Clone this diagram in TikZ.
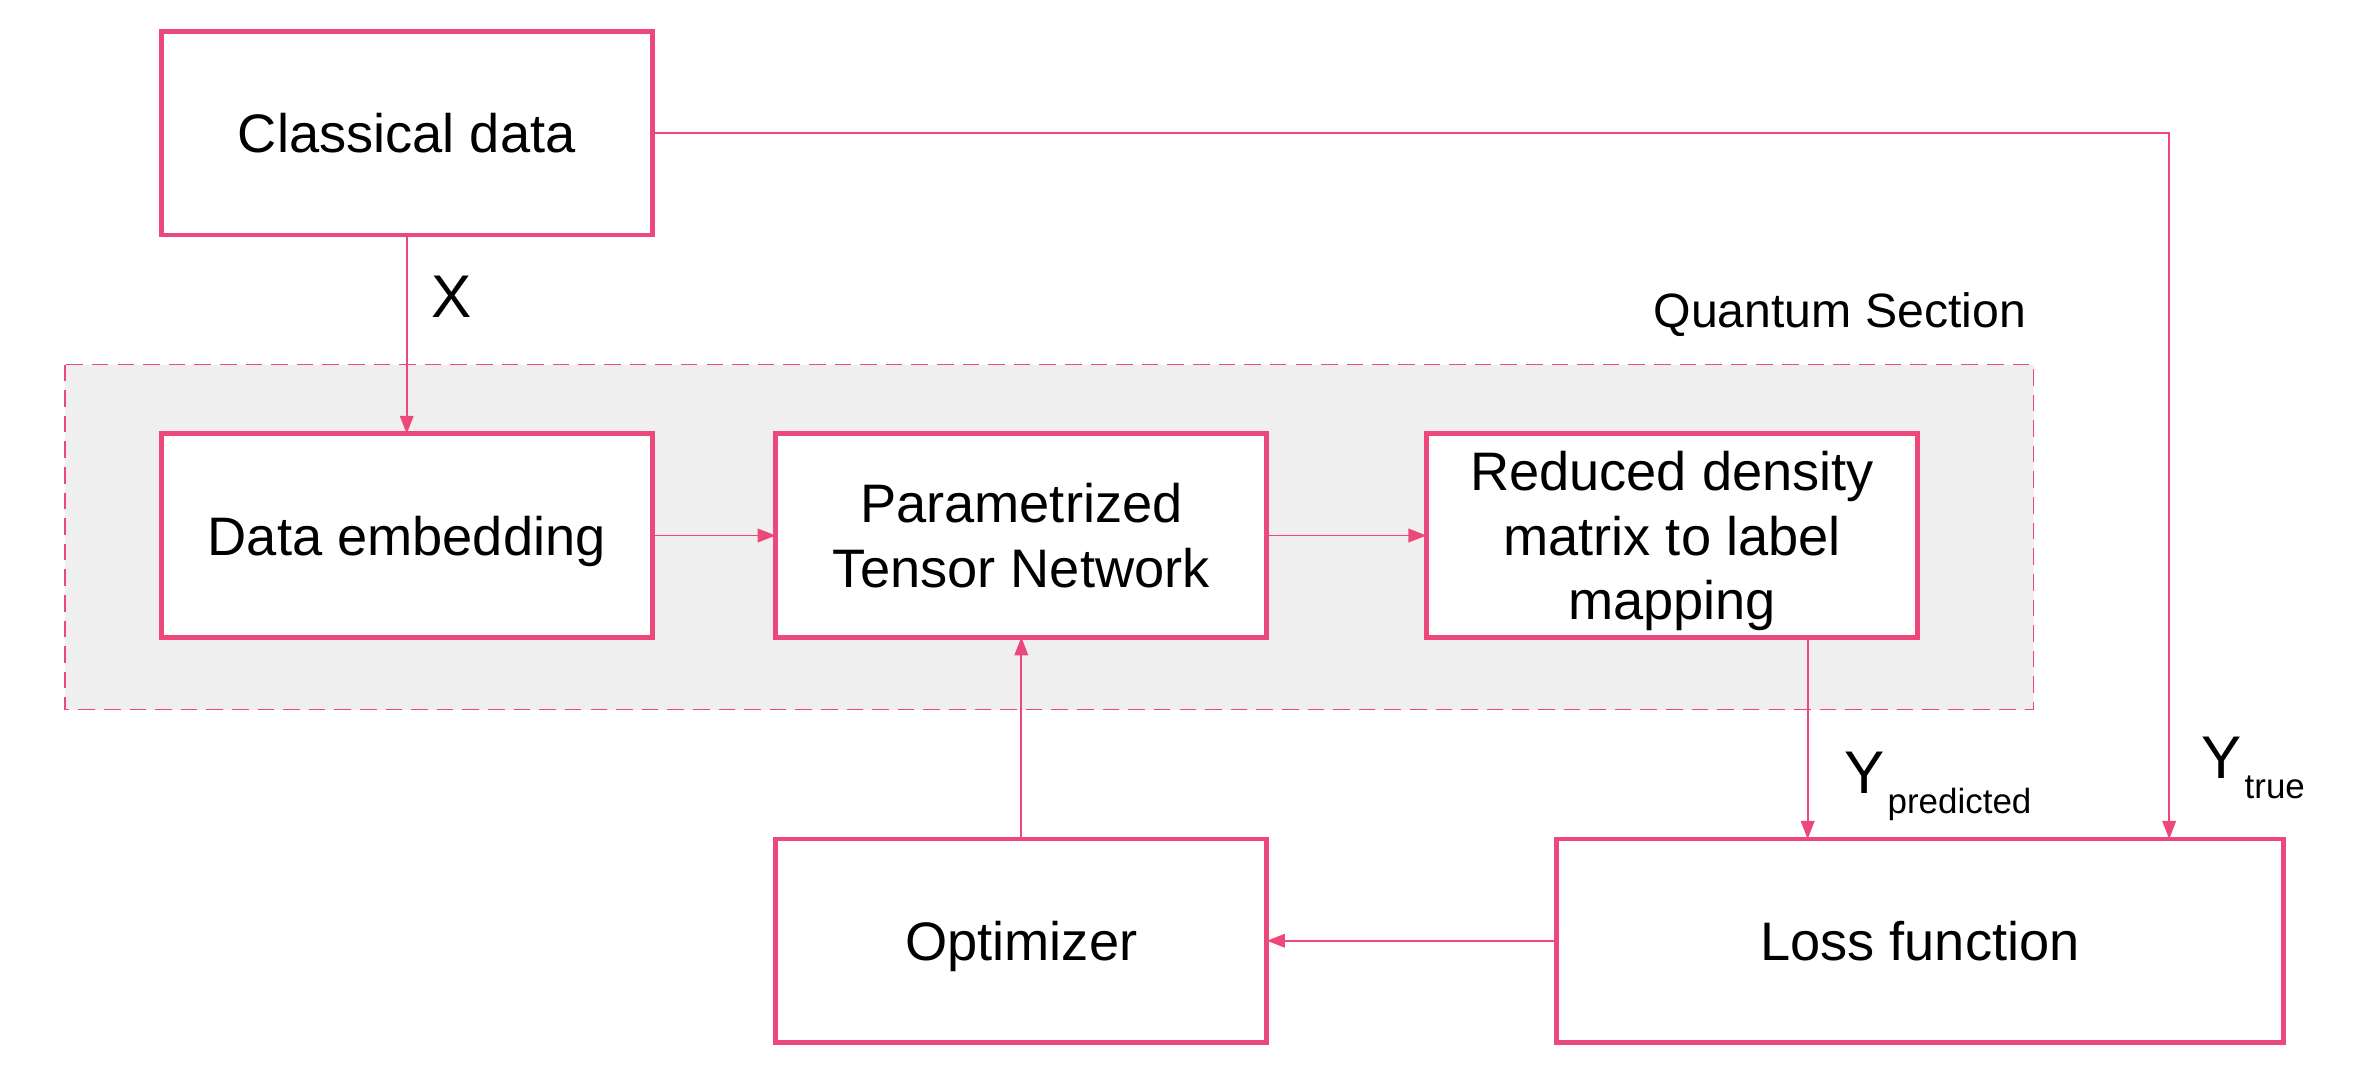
\documentclass[tikz,border=0pt]{standalone}
\usepackage{fontspec}
\setmainfont{Liberation Sans}
\usetikzlibrary{arrows.meta}
\definecolor{pinkc}{RGB}{236,72,124}
\definecolor{regionc}{RGB}{239,239,239}
\tikzset{
  blk/.style={draw=pinkc, line width=1.6pt, fill=white, minimum width=163pt, minimum height=67.5pt,
    inner sep=2pt, outer sep=0pt, align=center, text depth=0pt, font=\fontsize{18}{21.5}\selectfont},
  arr/.style={draw=pinkc, line width=0.6pt, -{Triangle[length=6pt,width=4.5pt]}},
  region/.style={draw=pinkc, line width=0.5pt, fill=regionc, dash pattern=on 5.5pt off 3pt},
}
\begin{document}
\begin{tikzpicture}[x=0.5pt,y=-0.5pt]
\useasboundingbox (0,0) rectangle (1568,721);
\fill[white] (0,0) rectangle (1568,721);
\draw[region] (43,242) rectangle (1350,471);
\node[anchor=east, font=\fontsize{16}{18}\selectfont] (qs) at (1352,209) {Quantum Section};

\node[blk] (cd) at (270,88.5) {Classical data};
\node[blk] (de) at (270,355.5) {Data embedding};
\node[blk] (ptn) at (678,355.5) {Parametrized\\Tensor Network};
\node[blk] (rdm) at (1110,355.5) {Reduced density\\matrix to label\\mapping};
\node[blk] (opt) at (678,624.5) {Optimizer};
\node[blk, minimum width=241.5pt] (loss) at (1274.5,624.5) {Loss function};

\coordinate (ytrue) at (1440,557);
\draw[arr] (cd.south) -- (de.north);
\draw[arr] (de.east) -- (ptn.west);
\draw[arr] (ptn.east) -- (rdm.west);
\draw[arr] ([xshift=45pt]rdm.south) -- ([xshift=45pt]rdm.south |- loss.north);
\draw[arr] (cd.east) -| (ytrue);
\draw[arr] (loss.west) -- (opt.east);
\draw[arr] (opt.north) -- (ptn.south);

\node[font=\fontsize{20}{24}\selectfont] (xl) at (300,197) {X};
\node[anchor=base west, inner sep=0pt] (yp) at (1224,527) {\fontsize{20}{24}\selectfont Y\kern1pt\raisebox{-6.5pt}{\fontsize{11.6}{14}\selectfont predicted}};
\node[anchor=base west, inner sep=0pt] (yt) at (1461,517) {\fontsize{20}{24}\selectfont Y\kern1pt\raisebox{-6.5pt}{\fontsize{11.6}{14}\selectfont true}};
\end{tikzpicture}
\end{document}
